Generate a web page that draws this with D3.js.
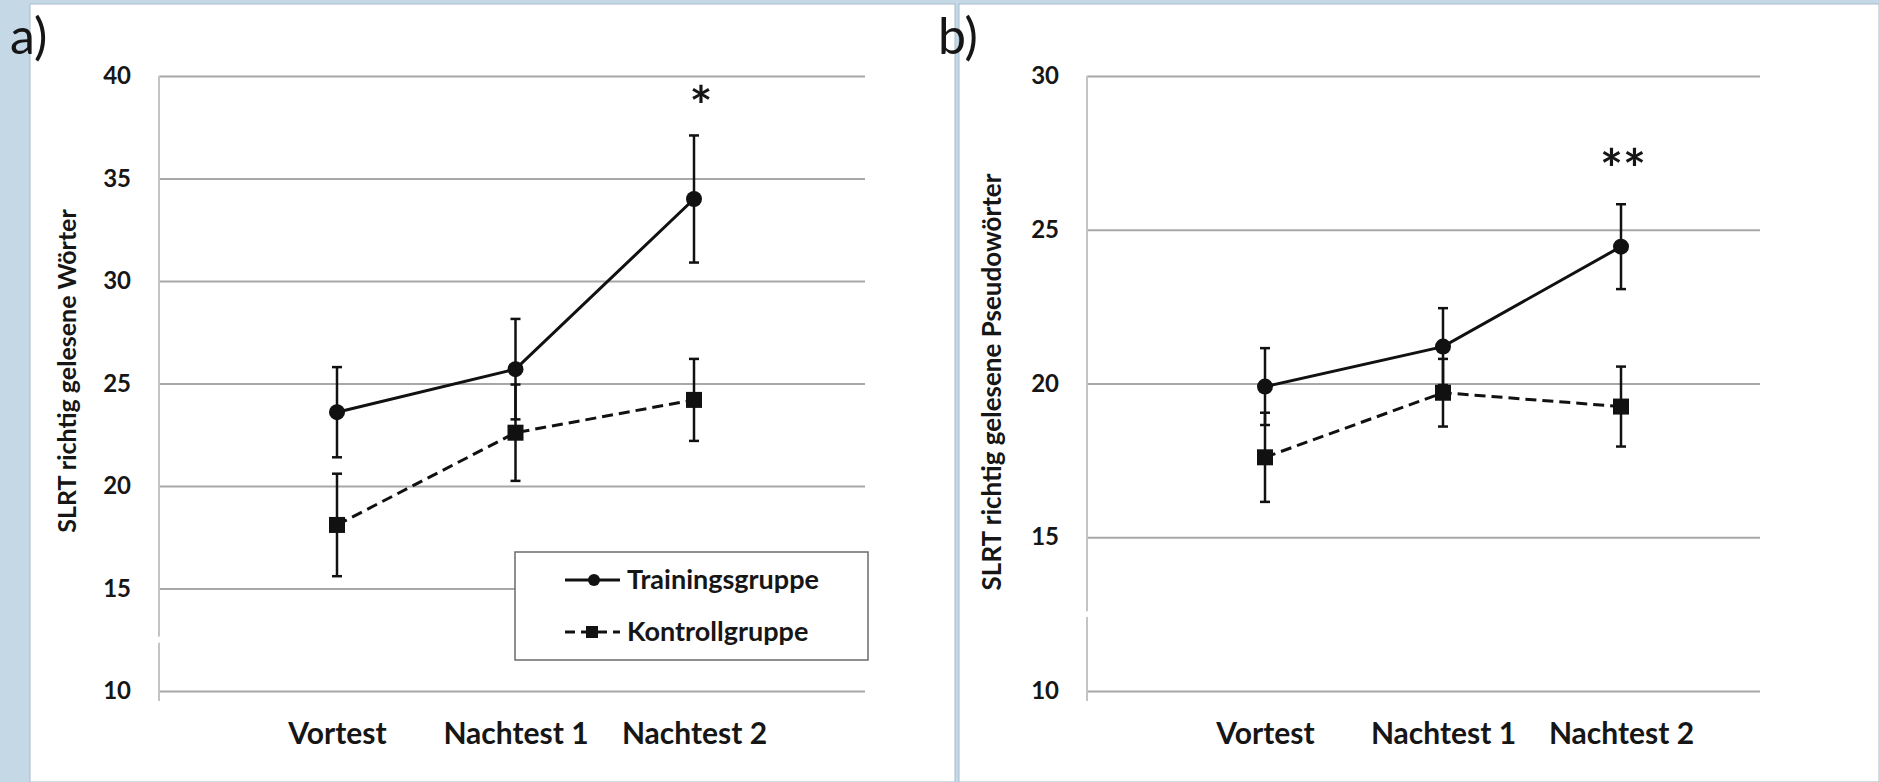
<!DOCTYPE html>
<html>
<head>
<meta charset="utf-8">
<script src="https://cdn.jsdelivr.net/npm/d3@7"></script>
<style>
  body { margin: 0; background: #c4d8e5; }
  svg { display: block; }
  text { font-family: Lato, "Open Sans", sans-serif; fill: #161616; }
</style>
</head>
<body>
<script>
// categories and values
var categories = ["Vortest", "Nachtest 1", "Nachtest 2"];
var seriesNames = ["Trainingsgruppe", "Kontrollgruppe"];

// a) richtig gelesene Woerter
var trainingWoerter = [23.6, 25.7, 34.0];
var trainingWoerterErr = [2.2, 2.45, 3.1];
var kontrollWoerter = [18.1, 22.6, 24.2];
var kontrollWoerterErr = [2.5, 2.35, 2.0];
var ticksWoerter = [10, 15, 20, 25, 30, 35, 40];

// b) richtig gelesene Pseudowoerter
var trainingPseudo = [19.9, 21.2, 24.45];
var trainingPseudoErr = [1.25, 1.25, 1.38];
var kontrollPseudo = [17.6, 19.7, 19.25];
var kontrollPseudoErr = [1.45, 1.1, 1.3];
var ticksPseudo = [10, 15, 20, 25, 30];

var widthSvg = 1879;
var heightSvg = 782;
var plotTop = 76;
var plotBottom = 691;

var svg = d3.select("body")
          .append("svg")
          .attr("width", widthSvg)
          .attr("height", heightSvg);

function drawPanel(p) {
  // white card behind the chart
  svg.append("rect")
     .attr("x", p.cardX)
     .attr("y", 4)
     .attr("width", p.cardW)
     .attr("height", heightSvg - 4)
     .attr("fill", "#ffffff")
     .attr("stroke", "#a9bccb")
     .attr("stroke-width", 1);

  var y = d3.scaleLinear()
            .domain([d3.min(p.ticks), d3.max(p.ticks)])
            .range([plotBottom, plotTop]);
  var x = d3.scalePoint()
            .domain(categories)
            .range(p.xRange);

  // gridlines
  svg.append("g")
     .attr("transform", "translate(" + p.plotLeft + ",0)")
     .call(d3.axisLeft(y).tickValues(p.ticks).tickSize(-(p.plotRight - p.plotLeft)).tickFormat(""))
     .call(function(g) { g.select(".domain").remove(); })
     .selectAll("line")
     .attr("stroke", "#a8a8a8")
     .attr("stroke-width", 1.8);

  // vertical axis line
  svg.append("line")
     .attr("x1", p.plotLeft).attr("x2", p.plotLeft)
     .attr("y1", plotTop).attr("y2", plotBottom + 10)
     .attr("stroke", "#c4c4c4")
     .attr("stroke-width", 2);

  // axis break mark
  svg.append("line")
     .attr("x1", p.plotLeft - 10).attr("y1", y(12.5) + 6)
     .attr("x2", p.plotLeft + 10).attr("y2", y(12.5) - 6)
     .attr("stroke", "#ffffff")
     .attr("stroke-width", 5);

  // y tick labels
  svg.append("g")
     .attr("transform", "translate(" + (p.plotLeft - 28) + ",0)")
     .call(d3.axisLeft(y).tickValues(p.ticks).tickSize(0).tickPadding(0))
     .call(function(g) { g.select(".domain").remove(); })
     .selectAll("text")
     .attr("font-size", 24)
     .attr("font-weight", "bold")
     .attr("font-family", "Lato, sans-serif")
     .attr("fill", "#161616");

  // x labels
  svg.append("g")
     .attr("transform", "translate(0," + (plotBottom + 32) + ")")
     .call(d3.axisBottom(x).tickSize(0).tickPadding(0))
     .call(function(g) { g.select(".domain").remove(); })
     .selectAll("text")
     .attr("font-size", 30)
     .attr("font-weight", "bold")
     .attr("font-family", "Lato, sans-serif")
     .attr("fill", "#161616");

  // y title
  svg.append("text")
     .attr("transform", "translate(" + p.titleX + "," + p.titleY + ") rotate(-90)")
     .attr("text-anchor", "middle")
     .attr("dominant-baseline", "central")
     .attr("font-size", p.titleSize)
     .attr("font-weight", "bold")
     .text(p.title);

  var line = d3.line()
               .x(function(d, i) { return x(categories[i]); })
               .y(function(d) { return y(d); });

  // error bars
  [[p.training, p.trainingErr], [p.kontroll, p.kontrollErr]].forEach(function(s) {
    var g = svg.append("g").attr("stroke", "#111").attr("stroke-width", 2.5);
    g.selectAll(".bar").data(s[0]).enter().append("line")
     .attr("x1", function(d, i) { return x(categories[i]); })
     .attr("x2", function(d, i) { return x(categories[i]); })
     .attr("y1", function(d, i) { return y(d - s[1][i]); })
     .attr("y2", function(d, i) { return y(d + s[1][i]); });
    g.selectAll(".capTop").data(s[0]).enter().append("line")
     .attr("x1", function(d, i) { return x(categories[i]) - 5; })
     .attr("x2", function(d, i) { return x(categories[i]) + 5; })
     .attr("y1", function(d, i) { return y(d + s[1][i]); })
     .attr("y2", function(d, i) { return y(d + s[1][i]); });
    g.selectAll(".capBottom").data(s[0]).enter().append("line")
     .attr("x1", function(d, i) { return x(categories[i]) - 5; })
     .attr("x2", function(d, i) { return x(categories[i]) + 5; })
     .attr("y1", function(d, i) { return y(d - s[1][i]); })
     .attr("y2", function(d, i) { return y(d - s[1][i]); });
  });

  // lines
  svg.append("path")
     .datum(p.training)
     .attr("d", line)
     .attr("fill", "none")
     .attr("stroke", "#111")
     .attr("stroke-width", 3);
  svg.append("path")
     .datum(p.kontroll)
     .attr("d", line)
     .attr("fill", "none")
     .attr("stroke", "#111")
     .attr("stroke-width", 3)
     .attr("stroke-dasharray", "11,6");

  // markers
  svg.selectAll(null)
     .data(p.training)
     .enter()
     .append("circle")
     .attr("cx", function(d, i) { return x(categories[i]); })
     .attr("cy", function(d) { return y(d); })
     .attr("r", 8)
     .attr("fill", "#111");
  svg.selectAll(null)
     .data(p.kontroll)
     .enter()
     .append("rect")
     .attr("x", function(d, i) { return x(categories[i]) - 8; })
     .attr("y", function(d) { return y(d) - 8; })
     .attr("width", 16)
     .attr("height", 16)
     .attr("fill", "#111");

  // significance stars
  svg.append("text")
     .attr("x", x(categories[2]) + p.starDx)
     .attr("y", p.starY)
     .attr("text-anchor", "middle")
     .attr("font-size", 54)
     .attr("font-weight", "bold")
     .text(p.star);

  // panel letter
  svg.append("text")
     .attr("x", p.letterX)
     .attr("y", 54)
     .attr("font-size", 50)
     .text(p.letter);
}

drawPanel({
  cardX: 30, cardW: 925,
  plotLeft: 159, plotRight: 865, xRange: [337, 694],
  ticks: ticksWoerter,
  training: trainingWoerter, trainingErr: trainingWoerterErr,
  kontroll: kontrollWoerter, kontrollErr: kontrollWoerterErr,
  title: "SLRT richtig gelesene Wörter", titleX: 66, titleY: 371, titleSize: 25,
  star: "*", starDx: 7, starY: 125,
  letter: "a)", letterX: 10
});

drawPanel({
  cardX: 959, cardW: 920,
  plotLeft: 1087, plotRight: 1760, xRange: [1265, 1621],
  ticks: ticksPseudo,
  training: trainingPseudo, trainingErr: trainingPseudoErr,
  kontroll: kontrollPseudo, kontrollErr: kontrollPseudoErr,
  title: "SLRT richtig gelesene Pseudowörter", titleX: 991, titleY: 382, titleSize: 26,
  star: "**", starDx: 2, starY: 188,
  letter: "b)", letterX: 938
});

// legend in panel a
var legend = svg.append("g");
legend.append("rect")
      .attr("x", 515)
      .attr("y", 552)
      .attr("width", 353)
      .attr("height", 108)
      .attr("fill", "#ffffff")
      .attr("stroke", "#6b6b6b")
      .attr("stroke-width", 1.5);

var legendRows = legend.selectAll(".row")
      .data(seriesNames)
      .enter()
      .append("g")
      .attr("transform", function(d, i) { return "translate(565," + (580 + i * 52) + ")"; });

legendRows.append("line")
      .attr("x1", 0).attr("x2", 55)
      .attr("stroke", "#111")
      .attr("stroke-width", 3)
      .attr("stroke-dasharray", function(d, i) { return i === 0 ? null : "10,6"; });

legendRows.filter(function(d, i) { return i === 0; })
      .append("circle")
      .attr("cx", 29).attr("r", 6).attr("fill", "#111");
legendRows.filter(function(d, i) { return i === 1; })
      .append("rect")
      .attr("x", 21).attr("y", -6).attr("width", 12).attr("height", 12).attr("fill", "#111");

legendRows.append("text")
      .attr("x", 62)
      .attr("y", 9)
      .attr("font-size", 27)
      .attr("font-weight", "bold")
      .text(function(d) { return d; });
</script>
</body>
</html>
